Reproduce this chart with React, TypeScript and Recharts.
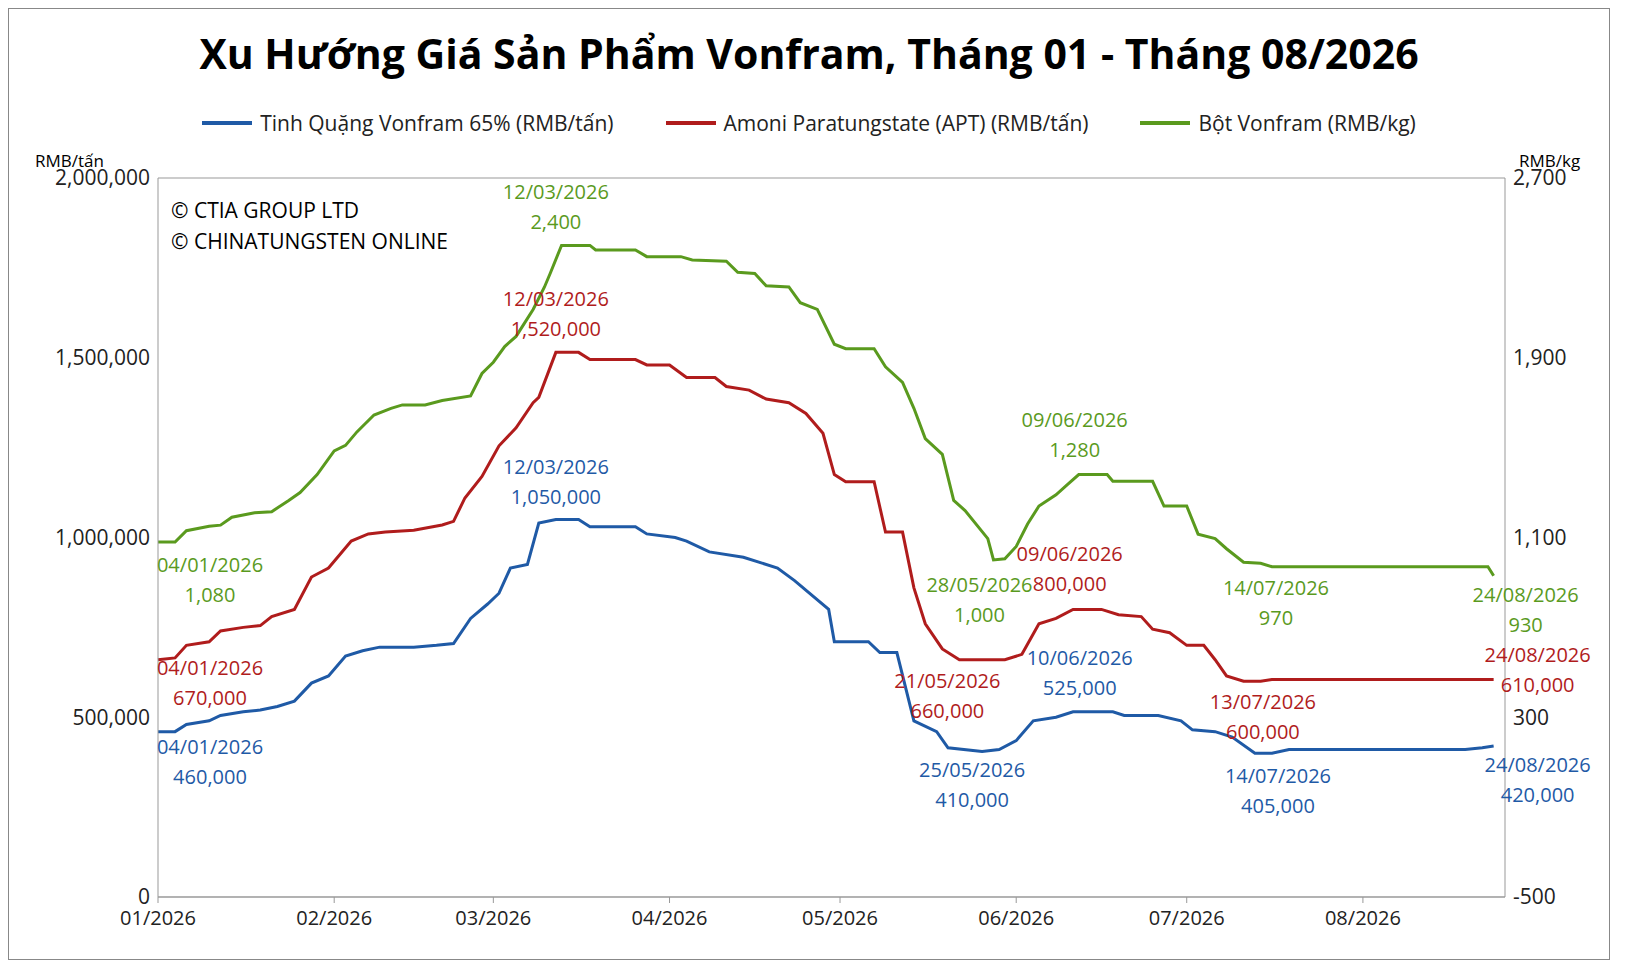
import { CartesianGrid, Line, LineChart, ReferenceDot, XAxis, YAxis } from "recharts";

// day index from 01/01/2026
const days = [0, 3, 5, 9, 11, 15, 18, 21, 24, 27, 30, 33, 36, 39, 45, 49, 52, 55, 58, 60, 62, 65, 67, 70, 74, 76, 84, 86, 91, 93, 97, 103, 109, 112, 118, 119, 125, 127, 130, 133, 137, 139, 145, 148, 151, 154, 158, 161, 168, 170, 176, 180, 182, 186, 189, 193, 196, 199, 230, 233, 235];
const oreValues = [460000, 460000, 480000, 490000, 505000, 515000, 520000, 530000, 545000, 595000, 615000, 670000, 685000, 695000, 695000, 700000, 705000, 775000, 815000, 845000, 915000, 925000, 1040000, 1050000, 1050000, 1030000, 1030000, 1010000, 1000000, 990000, 960000, 945000, 915000, 880000, 800000, 710000, 710000, 680000, 680000, 490000, 460000, 415000, 405000, 410000, 435000, 490000, 500000, 515000, 515000, 505000, 505000, 490000, 465000, 460000, 445000, 400000, 400000, 410000, 410000, 415000, 420000];

const aptDays = [0, 3, 5, 9, 11, 15, 18, 20, 24, 27, 30, 34, 37, 40, 45, 50, 52, 54, 57, 60, 63, 66, 67, 70, 74, 76, 84, 86, 90, 93, 98, 100, 104, 107, 111, 114, 117, 119, 121, 126, 128, 131, 133, 135, 138, 141, 149, 152, 155, 158, 161, 166, 169, 173, 175, 178, 181, 184, 186, 188, 191, 194, 196, 235];
const aptValues = [660000, 665000, 700000, 710000, 740000, 750000, 755000, 780000, 800000, 890000, 915000, 990000, 1010000, 1015000, 1020000, 1035000, 1045000, 1110000, 1170000, 1255000, 1305000, 1375000, 1390000, 1515000, 1515000, 1495000, 1495000, 1480000, 1480000, 1445000, 1445000, 1420000, 1410000, 1385000, 1375000, 1345000, 1290000, 1175000, 1155000, 1155000, 1015000, 1015000, 860000, 760000, 690000, 660000, 660000, 675000, 760000, 775000, 800000, 800000, 785000, 780000, 745000, 735000, 700000, 700000, 660000, 615000, 600000, 600000, 605000, 605000];

const powderDays = [0, 3, 5, 9, 11, 13, 17, 20, 23, 25, 28, 31, 33, 35, 38, 41, 43, 47, 50, 55, 57, 59, 61, 63, 66, 68, 69, 71, 76, 77, 84, 86, 92, 94, 100, 102, 105, 107, 111, 113, 116, 119, 121, 126, 128, 131, 133, 135, 138, 140, 142, 146, 147, 149, 151, 153, 155, 158, 160, 162, 167, 168, 175, 177, 181, 183, 186, 188, 191, 194, 196, 234, 235];
const powderValues = [1080, 1080, 1130, 1150, 1155, 1190, 1210, 1215, 1265, 1300, 1380, 1485, 1510, 1570, 1645, 1675, 1690, 1690, 1710, 1730, 1830, 1880, 1950, 1995, 2115, 2215, 2275, 2400, 2400, 2380, 2380, 2350, 2350, 2335, 2330, 2280, 2275, 2220, 2215, 2145, 2115, 1960, 1940, 1940, 1860, 1790, 1675, 1540, 1470, 1265, 1220, 1095, 1000, 1005, 1060, 1160, 1240, 1290, 1335, 1380, 1380, 1350, 1350, 1240, 1240, 1115, 1095, 1050, 990, 985, 970, 970, 930];

const monthTicks = [0, 31, 59, 90, 120, 151, 181, 212];
const monthLabels = ["01/2026", "02/2026", "03/2026", "04/2026", "05/2026", "06/2026", "07/2026", "08/2026"];
const leftTicks = [0, 500000, 1000000, 1500000, 2000000];
const rightTicks = [-500, 300, 1100, 1900, 2700];

const BLUE = "#1f5aa6";
const RED = "#b01c1c";
const GREEN = "#5a9a1e";

const legendItems = [
  { name: "Tinh Quặng Vonfram 65% (RMB/tấn)", color: BLUE },
  { name: "Amoni Paratungstate (APT) (RMB/tấn)", color: RED },
  { name: "Bột Vonfram (RMB/kg)", color: GREEN },
];

const annotations = [
  { day: 0, value: 1080, axis: "right", color: GREEN, date: "04/01/2026", text: "1,080", dx: 52, dy: 30 },
  { day: 0, value: 660000, axis: "left", color: RED, date: "04/01/2026", text: "670,000", dx: 52, dy: 15 },
  { day: 0, value: 460000, axis: "left", color: BLUE, date: "04/01/2026", text: "460,000", dx: 52, dy: 22 },
  { day: 70, value: 2400, axis: "right", color: GREEN, date: "12/03/2026", text: "2,400", dx: 0, dy: -46 },
  { day: 70, value: 1515000, axis: "left", color: RED, date: "12/03/2026", text: "1,520,000", dx: 0, dy: -46 },
  { day: 70, value: 1050000, axis: "left", color: BLUE, date: "12/03/2026", text: "1,050,000", dx: 0, dy: -46 },
  { day: 147, value: 1000, axis: "right", color: GREEN, date: "28/05/2026", text: "1,000", dx: -14, dy: 32 },
  { day: 141, value: 660000, axis: "left", color: RED, date: "21/05/2026", text: "660,000", dx: -12, dy: 28 },
  { day: 145, value: 405000, axis: "left", color: BLUE, date: "25/05/2026", text: "410,000", dx: -10, dy: 26 },
  { day: 159, value: 1380, axis: "right", color: GREEN, date: "09/06/2026", text: "1,280", dx: 13, dy: -48 },
  { day: 159, value: 800000, axis: "left", color: RED, date: "09/06/2026", text: "800,000", dx: 8, dy: -48 },
  { day: 162, value: 515000, axis: "left", color: BLUE, date: "10/06/2026", text: "525,000", dx: 1, dy: -47 },
  { day: 196, value: 970, axis: "right", color: GREEN, date: "14/07/2026", text: "970", dx: 4, dy: 28 },
  { day: 193, value: 600000, axis: "left", color: RED, date: "13/07/2026", text: "600,000", dx: 8, dy: 28 },
  { day: 196, value: 400000, axis: "left", color: BLUE, date: "14/07/2026", text: "405,000", dx: 6, dy: 30 },
  { day: 235, value: 930, axis: "right", color: GREEN, date: "24/08/2026", text: "930", dx: 32, dy: 26 },
  { day: 235, value: 605000, axis: "left", color: RED, date: "24/08/2026", text: "610,000", dx: 44, dy: -18 },
  { day: 235, value: 420000, axis: "left", color: BLUE, date: "24/08/2026", text: "420,000", dx: 44, dy: 26 },
];

const allDays = Array.from(new Set([...days, ...aptDays, ...powderDays])).sort((a, b) => a - b);
const data = allDays.map((d) => {
  const i = days.indexOf(d);
  const j = aptDays.indexOf(d);
  const k = powderDays.indexOf(d);
  return {
    day: d,
    ore: i >= 0 ? oreValues[i] : null,
    apt: j >= 0 ? aptValues[j] : null,
    powder: k >= 0 ? powderValues[k] : null,
  };
});

const font = "'Open Sans', sans-serif";

function AnnLabel(props: any) {
  const { viewBox, color, date, text, dx, dy } = props;
  const cx = viewBox.x + viewBox.width / 2 + dx;
  const cy = viewBox.y + viewBox.height / 2 + dy;
  return (
    <text x={cx} textAnchor="middle" fill={color} fontSize={20} fontFamily={font}>
      <tspan x={cx} y={cy}>{date}</tspan>
      <tspan x={cx} y={cy + 30}>{text}</tspan>
    </text>
  );
}

export default function App() {
  return (
    <div style={{ position: "relative", width: 1600, height: 950, border: "1px solid #888", fontFamily: font }}>
      <div style={{ position: "absolute", top: 16, width: "100%", textAlign: "center", fontSize: 41, fontWeight: 700 }}>
        Xu Hướng Giá Sản Phẩm Vonfram, Tháng 01 - Tháng 08/2026
      </div>
      <div style={{ position: "absolute", top: 100, width: "100%", display: "flex", justifyContent: "center", gap: 52, fontSize: 21, color: "#222" }}>
        {legendItems.map((l) => (
          <div key={l.name} style={{ display: "flex", alignItems: "center" }}>
            <span style={{ display: "inline-block", width: 50, height: 4, background: l.color, marginRight: 8 }} />
            {l.name}
          </div>
        ))}
      </div>
      <div style={{ position: "absolute", left: 26, top: 140, fontSize: 17 }}>RMB/tấn</div>
      <div style={{ position: "absolute", left: 1510, top: 140, fontSize: 17 }}>RMB/kg</div>
      <div style={{ position: "absolute", left: 162, top: 186, fontSize: 21, lineHeight: "31px", zIndex: 2 }}>
        © CTIA GROUP LTD<br />© CHINATUNGSTEN ONLINE
      </div>
      <LineChart width={1600} height={950} data={data} margin={{ top: 169, right: 0, bottom: 24, left: 0 }}>
        <CartesianGrid vertical={false} stroke="#999" />
        <XAxis
          dataKey="day"
          type="number"
          domain={[0, 237]}
          ticks={monthTicks}
          tickFormatter={(v: number) => monthLabels[monthTicks.indexOf(v)]}
          tick={{ fontSize: 20, fill: "#222" }}
          tickLine={{ stroke: "#999" }}
          axisLine={{ stroke: "#999" }}
          tickMargin={8}
          height={38}
        />
        <YAxis
          yAxisId="left"
          domain={[0, 2000000]}
          ticks={leftTicks}
          tickFormatter={(v: number) => v.toLocaleString("en-US")}
          tick={{ fontSize: 21, fill: "#222" }}
          axisLine={{ stroke: "#999" }}
          tickLine={false}
          width={149}
        />
        <YAxis
          yAxisId="right"
          orientation="right"
          domain={[-500, 2700]}
          ticks={rightTicks}
          tickFormatter={(v: number) => v.toLocaleString("en-US")}
          tick={{ fontSize: 21, fill: "#222" }}
          axisLine={{ stroke: "#999" }}
          tickLine={false}
          width={104}
        />
        <Line yAxisId="left" dataKey="ore" stroke={BLUE} strokeWidth={3} dot={false} connectNulls isAnimationActive={false} />
        <Line yAxisId="left" dataKey="apt" stroke={RED} strokeWidth={3} dot={false} connectNulls isAnimationActive={false} />
        <Line yAxisId="right" dataKey="powder" stroke={GREEN} strokeWidth={3} dot={false} connectNulls isAnimationActive={false} />
        {annotations.map((a, i) => (
          <ReferenceDot
            key={i}
            yAxisId={a.axis}
            x={a.day}
            y={a.value}
            r={0}
            ifOverflow="visible"
            label={<AnnLabel color={a.color} date={a.date} text={a.text} dx={a.dx} dy={a.dy} />}
          />
        ))}
      </LineChart>
    </div>
  );
}
